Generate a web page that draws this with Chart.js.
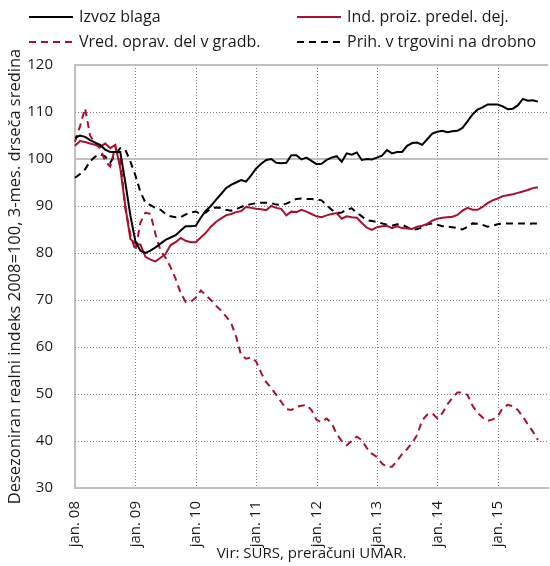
<!DOCTYPE html>
<html>
<head>
<meta charset="utf-8">
<script src="https://cdn.jsdelivr.net/npm/chart.js"></script>
<style>
  body { margin: 0; background: #fff; }
  #wrap { position: relative; width: 550px; height: 566px; font-family: 'Open Sans', sans-serif; color: #1a1a1a; }
  #myChart { position: absolute; left: 0; top: 0; }
  .leg { position: absolute; font-size: 16px; line-height: 20px; white-space: nowrap; }
  .leg svg { vertical-align: middle; margin-right: 6px; position: relative; top: -1px; }
</style>
</head>
<body>
<div id="wrap">
  <canvas id="myChart" width="550" height="566"></canvas>
  <div class="leg" style="left:29px; top:6px;"><svg width="44" height="4"><line x1="0" y1="2" x2="44" y2="2" stroke="#000" stroke-width="2"/></svg>Izvoz blaga</div>
  <div class="leg" style="left:297px; top:6px;"><svg width="44" height="4"><line x1="0" y1="2" x2="44" y2="2" stroke="#a8102e" stroke-width="2"/></svg>Ind. proiz. predel. dej.</div>
  <div class="leg" style="left:29px; top:31px;"><svg width="44" height="4"><line x1="0" y1="2" x2="44" y2="2" stroke="#a8102e" stroke-width="2" stroke-dasharray="7,5"/></svg>Vred. oprav. del v gradb.</div>
  <div class="leg" style="left:297px; top:31px;"><svg width="44" height="4"><line x1="0" y1="2" x2="44" y2="2" stroke="#000" stroke-width="2" stroke-dasharray="7,5"/></svg>Prih. v trgovini na drobno</div>
</div>
<script>
// month labels, jan. 08 .. nov. 15
var monthNames = ["jan.", "feb.", "mar.", "apr.", "maj", "jun.", "jul.", "avg.", "sep.", "okt.", "nov.", "dec."];
var years = ["08", "09", "10", "11", "12", "13", "14", "15"];
var categories = [];
for (var yr = 0; yr < years.length; yr++)
  for (var m = 0; m < 12; m++)
    if (categories.length < 95) categories.push(monthNames[m] + " " + years[yr]);

var seriesNames = ["Izvoz blaga", "Ind. proiz. predel. dej.", "Vred. oprav. del v gradb.", "Prih. v trgovini na drobno"];

var izvoz = [104.5,105,104.7,104,103.5,103,102,101.5,101.5,101.5,95,88,82.5,80.5,80,80.5,81.2,82,82.8,83.3,
  83.8,84.8,85.7,85.7,85.8,87.5,89,90,91.3,92.5,93.8,94.5,95,95.5,95.2,96.5,98,99,99.8,100,
  99.2,99.1,99.2,100.8,100.8,99.9,100.3,99.6,98.9,99,99.8,100.3,100.6,99.4,101.2,100.9,101.4,99.8,100,99.9,
  100.3,100.7,101.9,101.2,101.5,101.5,102.8,103.4,103.5,103,104.2,105.4,105.8,106,105.7,105.9,106,106.6,108,109.5,
  110.5,111,111.6,111.6,111.6,111.2,110.6,110.7,111.4,112.8,112.4,112.5,112.2];

var industrija = [102.8,103.8,103.6,103.3,103,102.6,103.3,102.3,103,98,90,83,82,81.8,79.2,78.6,78.2,79,79.8,81.7,
  82.3,83.2,82.6,82.3,82.3,83.3,84.3,85.6,86.6,87.3,88,88.3,88.7,88.9,89.8,89.6,89.4,89.3,89.1,90,
  89.6,89.4,88,88.8,88.7,89.2,88.8,88.3,87.8,87.6,88,88.3,88.5,87.3,87.8,87.6,87.5,86.4,85.4,84.9,
  85.5,85.7,85.8,85.3,85.7,85.3,85.2,85.1,85.6,85.8,86.2,86.9,87.3,87.5,87.6,87.7,88.1,89,89.6,89.2,
  89.2,89.8,90.6,91.2,91.6,92.1,92.3,92.5,92.8,93.1,93.4,93.8,94];

var gradbenistvo = [103.7,107,110.8,105,103.3,102.3,99.5,98.4,102.5,100,89.5,84,80.5,86.5,88.6,88.3,84,80.5,79,77,
  74.5,71.5,69.6,69.6,70.5,72,71,70,68.8,67.8,66.5,65.2,62.3,58.3,57.5,57.8,56.9,54.5,52.5,51.3,
  49.8,48.3,46.8,46.6,47.3,47.5,47.7,46.6,44.5,44,44.8,43.8,41.5,40,39.1,40,40.9,40.2,38.5,37.3,
  36.6,35.2,34.5,34.5,35.8,37.2,38.3,39.6,41.3,44.4,45.6,45.9,44.8,45.9,47.8,49.2,50.3,50.3,49.8,47.5,
  46,45,44.3,44.6,45.2,47,47.7,47.4,46.6,45.2,43.5,42,40.2];

var trgovina = [96,96.8,97.8,99.5,100.5,101,100.5,99.2,101,102.3,102,99.5,96.5,93,90.7,90.2,89.6,89.2,88.3,87.8,
  87.6,87.6,88.2,88.6,88.8,88.3,88.6,89.5,89.7,89.6,89.2,89,89.3,89.8,90.2,90.4,90.6,90.7,90.7,90.6,
  90.3,90.2,90.5,91,91.5,91.6,91.5,91.5,91.4,91.2,90.2,89.2,88.5,88.6,89.3,89.5,88.6,87.8,87,86.8,
  86.6,86.3,86,85.8,86.1,86,85.5,84.9,85.1,85.4,86.1,86.3,86,85.7,85.6,85.5,85.3,85,85.6,86.3,
  86.2,86,85.6,85.8,86.1,86.3,86.3,86.3,86.3,86.3,86.2,86.3,86.3];

var yTicks = {min: 30, max: 120, step: 10};
var red = "#a8102e";

// dotted grid + solid grey lines at 100 and at the top of the plot
var refLines = {
  id: "refLines",
  beforeDatasetsDraw: function(chart) {
    var c = chart.ctx, a = chart.chartArea, ys = chart.scales.y, xs = chart.scales.x;
    var y0 = ys.getPixelForValue(yTicks.max), y1 = ys.getPixelForValue(yTicks.min);
    c.save();
    c.strokeStyle = "#808080";
    c.lineWidth = 1;
    c.setLineDash([1, 2]);
    for (var v = yTicks.min + yTicks.step; v < yTicks.max; v += yTicks.step) {
      if (v === 100) continue;
      var py = Math.round(ys.getPixelForValue(v)) + 0.5;
      c.beginPath(); c.moveTo(a.left, py); c.lineTo(a.right, py); c.stroke();
    }
    for (var i = 12; i < categories.length; i += 12) {
      var px = Math.round(xs.getPixelForValue(i)) + 0.5;
      c.beginPath(); c.moveTo(px, y0); c.lineTo(px, y1); c.stroke();
    }
    c.setLineDash([]);
    c.strokeStyle = "#c0c0c0";
    c.lineWidth = 2;
    [100, 120].forEach(function(v) {
      var py = Math.round(ys.getPixelForValue(v));
      c.beginPath(); c.moveTo(a.left, py); c.lineTo(a.right, py); c.stroke();
    });
    c.restore();
  }
};

Chart.defaults.font.family = "'Open Sans', sans-serif";
Chart.defaults.font.size = 15;
Chart.defaults.color = "#1a1a1a";

new Chart("myChart", {
  type: "line",
  data: {
    labels: categories,
    datasets: [
      {label: seriesNames[0], data: izvoz, borderColor: "#000", borderWidth: 2},
      {label: seriesNames[1], data: industrija, borderColor: red, borderWidth: 2},
      {label: seriesNames[2], data: gradbenistvo, borderColor: red, borderWidth: 2, borderDash: [7, 5]},
      {label: seriesNames[3], data: trgovina, borderColor: "#000", borderWidth: 2, borderDash: [7, 5]}
    ]
  },
  options: {
    responsive: false,
    animation: false,
    layout: {padding: {top: 65, left: 2, right: 2, bottom: 0}},
    elements: {point: {radius: 0}, line: {tension: 0}},
    plugins: {legend: {display: false}, tooltip: {enabled: false}},
    scales: {
      x: {
        grid: {display: false},
        border: {color: "#c0c0c0", width: 2},
        ticks: {
          autoSkip: false, maxRotation: 90, minRotation: 90, padding: 5,
          callback: function(v, i) { return i % 12 === 0 ? categories[i] : null; }
        },
        title: {display: true, text: "Vir: SURS, preračuni UMAR.", padding: {top: 2, bottom: 3}},
        afterFit: function(s) { s.height = 78; }
      },
      y: {
        min: yTicks.min, max: yTicks.max,
        grid: {display: false},
        border: {color: "#c0c0c0", width: 2},
        ticks: {stepSize: yTicks.step, padding: 14},
        title: {display: true, text: "Desezoniran realni indeks 2008=100, 3-mes. drseča sredina", font: {size: 16.5}, padding: {top: 3, bottom: 4}},
        afterFit: function(s) { s.width = 73; }
      }
    }
  },
  plugins: [refLines]
});
</script>
</body>
</html>
